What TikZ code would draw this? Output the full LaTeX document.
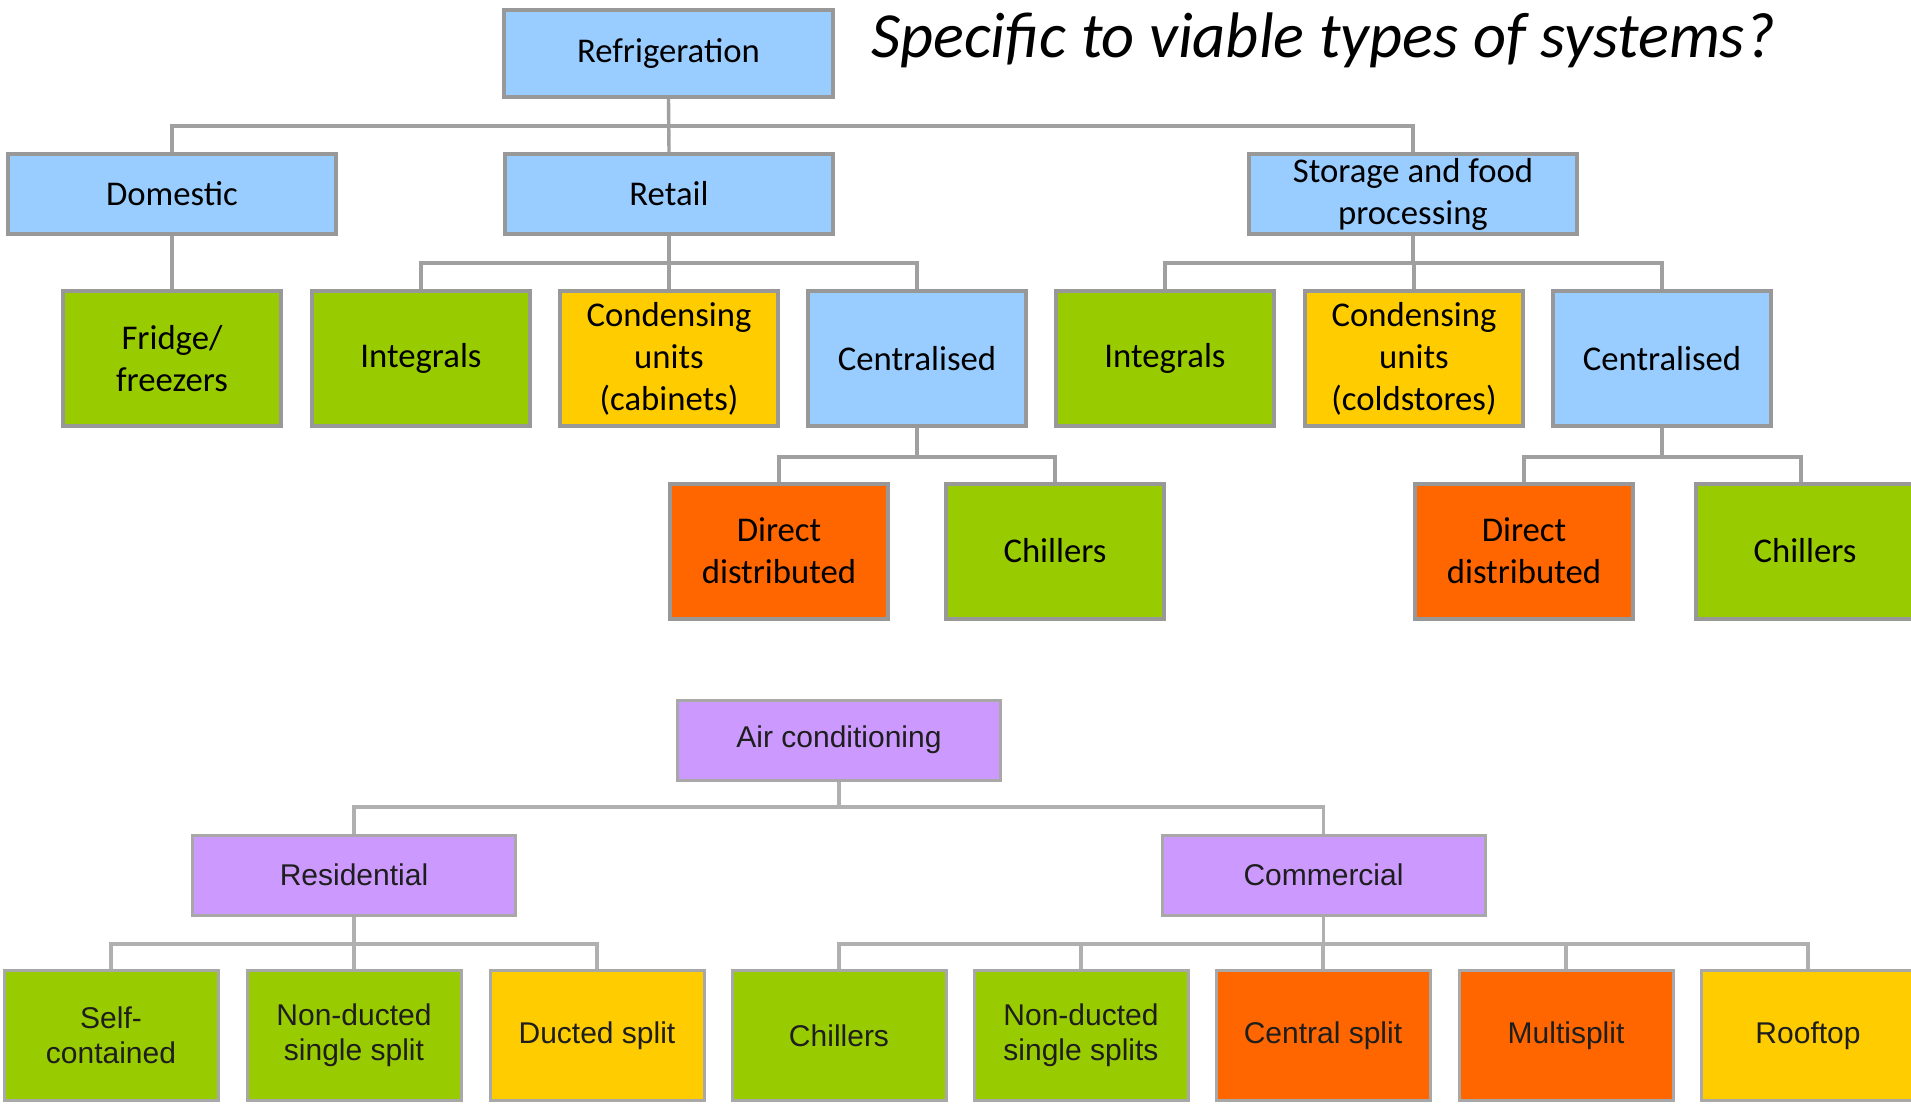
\documentclass[tikz,border=0pt]{standalone}
\usepackage{fontspec}
\setmainfont{Carlito}
\newfontfamily\arialfont{Liberation Sans}
\usetikzlibrary{positioning}

\definecolor{refblue}{HTML}{99CCFF}
\definecolor{refgreen}{HTML}{99CC00}
\definecolor{refyellow}{HTML}{FFCC00}
\definecolor{reforange}{HTML}{FF6600}
\definecolor{acpurple}{HTML}{CC99FF}
\definecolor{boxgray}{HTML}{989898}
\definecolor{acgray}{HTML}{A8A8A8}
\definecolor{linegray}{HTML}{A0A0A0}
\definecolor{aclinegray}{HTML}{B0B0B0}
\definecolor{actext}{HTML}{1E1E1E}

\begin{document}
\begin{tikzpicture}[x=.5pt,y=-.5pt,
  box/.style={draw=boxgray,rectangle,line width=2pt,inner sep=1pt,align=center,
    font=\fontsize{17.35}{21}\selectfont},
  headbox/.style={box,minimum width=164.5pt,minimum height=43.5pt},
  catbox/.style={box,minimum width=164pt,minimum height=40pt},
  leafbox/.style={box,minimum width=109pt,minimum height=67.5pt},
  acbox/.style={draw=acgray,rectangle,line width=1.5pt,inner sep=1pt,align=center,
    text=actext,font=\arialfont\fontsize{15}{17.5}\selectfont},
  achead/.style={acbox,fill=acpurple,minimum width=161.5pt,minimum height=40pt},
  acleaf/.style={acbox,minimum width=107pt,minimum height=65pt},
  conn/.style={draw=linegray,line width=1.7pt},
  acconn/.style={draw=aclinegray,line width=1.6pt}]
\useasboundingbox (0,0) rectangle (1911,1103);
\clip (0,0) rectangle (1911,1103);

% bus levels
\coordinate (busA) at (0,126);
\coordinate (busB) at (0,263);
\coordinate (busC) at (0,457);
\coordinate (busD) at (0,807);
\coordinate (busE) at (0,944);

\node[font=\itshape\fontsize{32.2}{38}\selectfont,anchor=base] (title) at (1323,57) {Specific to viable types of systems?};

% refrigeration
\node[headbox,fill=refblue] (refr) at (668.5,53.5) {Refrigeration};
\node[catbox,fill=refblue] (dom) at (172,194) {Domestic};
\node[catbox,fill=refblue] (retail) at (669,194) {Retail};
\node[catbox,fill=refblue] (stor) at (1413,194) {Storage and food\\processing};

\node[leafbox,fill=refgreen] (fridge) at (172,358.5) {Fridge/\\freezers};
\node[leafbox,fill=refgreen] (intA) at (421,358.5) {Integrals};
\node[leafbox,fill=refyellow] (condA) at (669,358.5) {Condensing\\units\\(cabinets)};
\node[leafbox,fill=refblue] (centA) at (917,358.5) {Centralised};
\node[leafbox,fill=refgreen] (intB) at (1165,358.5) {Integrals};
\node[leafbox,fill=refyellow] (condB) at (1414,358.5) {Condensing\\units\\(coldstores)};
\node[leafbox,fill=refblue] (centB) at (1662,358.5) {Centralised};

\node[leafbox,fill=reforange] (dirA) at (779,551) {Direct\\distributed};
\node[leafbox,fill=refgreen] (chilA) at (1055,551) {Chillers};
\node[leafbox,fill=reforange] (dirB) at (1524,551) {Direct\\distributed};
\node[leafbox,fill=refgreen] (chilB) at (1805,551) {Chillers};

\draw[conn] (refr.south) -- (retail.north);
\foreach \c in {dom,stor}
  \draw[conn] (refr.south) -- (refr.south |- busA) -| (\c.north);
\draw[conn] (dom.south) -- (fridge.north);
\foreach \c in {intA,condA,centA}
  \draw[conn] (retail.south) -- (retail.south |- busB) -| (\c.north);
\foreach \c in {intB,condB,centB}
  \draw[conn] (stor.south) -- (stor.south |- busB) -| (\c.north);
\draw[conn] (centA.south) -- (centA.south |- busC) -| (dirA.north);
\draw[conn] (centA.south) -- (centA.south |- busC) -| (chilA.north);
\draw[conn] (centB.south) -- (centB.south |- busC) -| (dirB.north);
\draw[conn] (centB.south) -- (centB.south |- busC) -| ([xshift=-2pt]chilB.north);

% air conditioning
\node[achead] (ac) at (839,740) {Air conditioning};
\node[achead] (res) at (354,875) {Residential};
\node[achead] (com) at (1323.5,875) {Commercial};

\node[acleaf,fill=refgreen] (self) at (111,1035.5) {Self-\\contained};
\node[acleaf,fill=refgreen] (nondA) at (354,1035.5) {Non-ducted\\single split};
\node[acleaf,fill=refyellow] (duct) at (597,1035.5) {Ducted split};
\node[acleaf,fill=refgreen] (chilC) at (839,1035.5) {Chillers};
\node[acleaf,fill=refgreen] (nondB) at (1081,1035.5) {Non-ducted\\single splits};
\node[acleaf,fill=reforange] (csplit) at (1323,1035.5) {Central split};
\node[acleaf,fill=reforange] (multi) at (1566,1035.5) {Multisplit};
\node[acleaf,fill=refyellow] (roof) at (1808,1035.5) {Rooftop};

\foreach \c in {res,com}
  \draw[acconn] (ac.south) -- (ac.south |- busD) -| (\c.north);
\foreach \c in {self,nondA,duct}
  \draw[acconn] (res.south) -- (res.south |- busE) -| (\c.north);
\foreach \c in {chilC,nondB,csplit,multi,roof}
  \draw[acconn] (com.south) -- (com.south |- busE) -| (\c.north);
\end{tikzpicture}
\end{document}
